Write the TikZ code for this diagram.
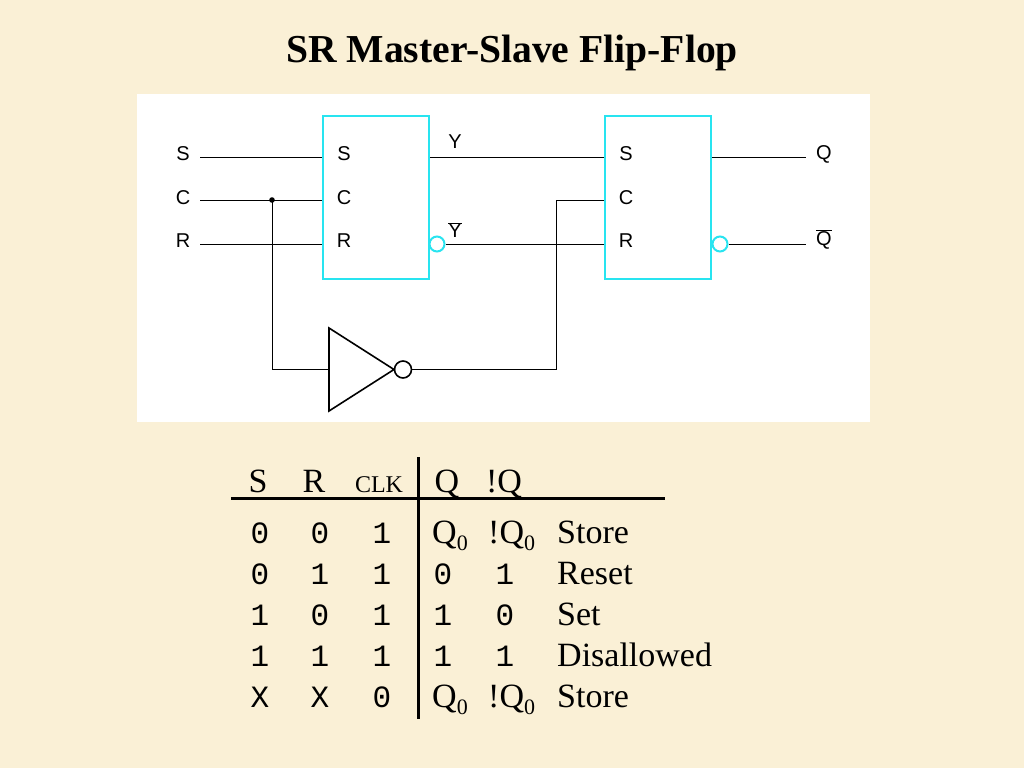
\documentclass[tikz,border=0pt]{standalone}
\usepackage{fontspec}
\setmainfont{Liberation Serif}
\newfontfamily\hv{Liberation Sans}
\newfontfamily\cour{Liberation Mono}
\definecolor{paper}{RGB}{250,240,214}
\definecolor{ffcyan}{RGB}{40,228,240}
\newcommand{\subz}{\raisebox{-0.22em}{\fontsize{22}{22}\selectfont 0}}
\begin{document}
\begin{tikzpicture}[x=1pt,y=-1pt,
  ffbox/.style={draw=ffcyan,line width=2pt,minimum width=106pt,minimum height=163pt,inner sep=0pt},
  bub/.style={draw=ffcyan,line width=2pt,circle,minimum size=15pt,inner sep=0pt},
  wire/.style={line width=0.9pt},
  clab/.style={font=\hv\fontsize{20}{21}\selectfont,inner sep=0pt},
  ttl/.style={font=\bfseries\fontsize{39.6}{42}\selectfont,anchor=base,inner sep=0pt},
  tt/.style={font=\fontsize{34}{36}\selectfont,anchor=base,inner sep=0pt},
  tl/.style={font=\fontsize{34}{36}\selectfont,anchor=base west,inner sep=0pt},
  td/.style={font=\cour\fontsize{31}{33}\selectfont,anchor=base,inner sep=0pt},
  rule/.style={line width=3pt}]
\fill[paper] (0,0) rectangle (1024,768);
\useasboundingbox (0,0) rectangle (1024,768);
\node[ttl] (title) at (512,63) {SR Master-Slave Flip-Flop};
% circuit panel
\fill[white] (137,94) rectangle (870,422);
\node[ffbox] (m) at (376,197.5) {};
\node[ffbox] (s) at (658,197.5) {};
% labels
\node[clab] (inS) at (183,154) {S};
\node[clab] (inC) at (183,198) {C};
\node[clab] (inR) at (183,241) {R};
\node[clab] (mS) at (344,154) {S};
\node[clab] (mC) at (344,198) {C};
\node[clab] (mR) at (344,241) {R};
\node[clab] (sS) at (626,154) {S};
\node[clab] (sC) at (626,198) {C};
\node[clab] (sR) at (626,241) {R};
\node[clab] (lY) at (455,142) {Y};
\node[clab] (lYb) at (455,230) {$\overline{\hbox{\hv Y}}$};
\node[clab] (lQ) at (824,154) {Q};
\node[clab] (lQb) at (824,239) {$\overline{\hbox{\hv Q}}$};
% pins
\coordinate (pS) at (200,157);
\coordinate (pC) at (200,200);
\coordinate (pR) at (200,244);
\coordinate (jn) at (272,200);
\coordinate (oQ) at (806,157);
\coordinate (oQb) at (806,244);
\node[bub] (bm) at (437,244) {};
\node[bub] (bs) at (720,244) {};
% inverter
\coordinate (invIn) at (329,369.5);
\draw[line width=1.6pt,line join=miter] (329,328) -- (394,369.5) -- (329,411) -- cycle;
\node[draw,line width=1.6pt,circle,minimum size=17pt,inner sep=0pt] (invB) at (403,369.5) {};
% wires
\draw[wire] (pS) -- (m.west |- pS);
\draw[wire] (pC) -- (m.west |- pC);
\draw[wire] (pR) -- (m.west |- pR);
\fill (jn) circle (2.8pt);
\draw[wire] (jn) |- (invIn);
\draw[wire] (invB.east) -| (556,200) -- (s.west |- pC);
\draw[wire] (m.east |- pS) -- (s.west |- pS);
\draw[wire] (bm.east) -- (s.west |- bm);
\draw[wire] (s.east |- pS) -- (oQ);
\draw[wire] (bs.east) -- (oQb);
% table
\node[tt] (hS) at (258,492) {S};
\node[tt] (hR) at (314,492) {R};
\node[tt,font=\fontsize{24}{26}\selectfont] (hC) at (379,492) {CLK};
\node[tt] (hQ) at (447,492) {Q};
\node[tt] (hQb) at (504,492) {!Q};
\coordinate (hl1) at (231,498);
\coordinate (hl2) at (665,498);
\coordinate (vl1) at (418,457);
\coordinate (vl2) at (418,719);
\draw[rule] (hl1) -- (hl2);
\draw[rule] (vl1) -- (vl2);
% row 1
\node[td] (a1) at (260,543) {0};
\node[td] (b1) at (320,543) {0};
\node[td] (c1) at (382,543) {1};
\node[tl] (d1) at (432,543) {Q\subz};
\node[tl] (e1) at (488,543) {!Q\subz};
\node[tl] (f1) at (557,543) {Store};
% row 2
\node[td] (a2) at (260,584) {0};
\node[td] (b2) at (320,584) {1};
\node[td] (c2) at (382,584) {1};
\node[td] (d2) at (443,584) {0};
\node[td] (e2) at (505,584) {1};
\node[tl] (f2) at (557,584) {Reset};
% row 3
\node[td] (a3) at (260,625) {1};
\node[td] (b3) at (320,625) {0};
\node[td] (c3) at (382,625) {1};
\node[td] (d3) at (443,625) {1};
\node[td] (e3) at (505,625) {0};
\node[tl] (f3) at (557,625) {Set};
% row 4
\node[td] (a4) at (260,666) {1};
\node[td] (b4) at (320,666) {1};
\node[td] (c4) at (382,666) {1};
\node[td] (d4) at (443,666) {1};
\node[td] (e4) at (505,666) {1};
\node[tl] (f4) at (557,666) {Disallowed};
% row 5
\node[td] (a5) at (260,707) {X};
\node[td] (b5) at (320,707) {X};
\node[td] (c5) at (382,707) {0};
\node[tl] (d5) at (432,707) {Q\subz};
\node[tl] (e5) at (488,707) {!Q\subz};
\node[tl] (f5) at (557,707) {Store};
\end{tikzpicture}
\end{document}
